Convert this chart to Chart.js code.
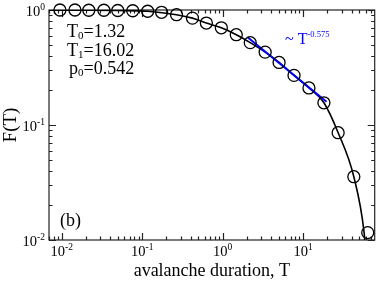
<!DOCTYPE html>
<html><head><meta charset="utf-8">
<script src="https://cdn.jsdelivr.net/npm/chart.js@4.4.1/dist/chart.umd.min.js"></script>
<style>html,body{margin:0;padding:0;background:#fff}#wrap{width:382px;height:282px}</style>
</head><body><div id="wrap"><canvas id="c" width="382" height="282"></canvas></div>
<script>
// ---- data ----
const durationT = [0.0095,0.0146,0.0217,0.0334,0.0497,0.0763,0.117,0.174,0.267,0.421,0.627,0.962,1.475,2.20,3.37,5.02,7.70,11.8,18.1,27.2,42.6,63.4];
const fractionF = [1.0,1.0,0.995,0.995,0.99,0.985,0.975,0.955,0.91,0.85,0.77,0.70,0.61,0.52,0.43,0.35,0.27,0.21,0.156,0.0857,0.0355,0.0116];
const fitT = [0.00695,0.0095,0.0217,0.0497,0.117,0.267,0.421,0.627,0.962,1.475,2.20,3.37,5.02,7.70,11.8,18.1,27.2,42.6,57.2,58.2];
const fitF = [0.995,0.995,0.995,0.99,0.975,0.91,0.85,0.77,0.70,0.61,0.52,0.43,0.35,0.27,0.21,0.156,0.0857,0.0355,0.0116,0.01];
const powerT = [2.04, 19.5];
const powerF = [0.579, 0.159];
const xTickValues = [0.01, 0.1, 1, 10];
const xTickExps = ['-2', '-1', '0', '1'];
const yTickValues = [0.01, 0.1, 1];
const yTickExps = ['-2', '-1', '0'];
const xAxisTitle = 'avalanche duration, T';
const yAxisTitle = 'F(T)';
const fitParams = [['T', '0', '=1.32'], ['T', '1', '=16.02'], ['p', '0', '=0.542']];
const panelLabel = '(b)';
const slopeLabel = ['~ T', '-0.575'];
const xRange = [0.00695, 77.4];
const yRange = [0.01, 1];

const SERIF = '"Liberation Serif", "Times New Roman", serif';

function logTicks(min, max) {
  const out = [];
  for (let e = Math.floor(Math.log10(min)); e <= Math.ceil(Math.log10(max)); e++) {
    for (let k = 1; k < 10; k++) {
      const v = k * Math.pow(10, e);
      if (v >= min * 0.9999 && v <= max * 1.0001) out.push({ v, major: k === 1 });
    }
  }
  return out;
}

function drawPow(ctx, base, exp, x, baseline, align, bs, es, color) {
  ctx.fillStyle = color || '#000';
  ctx.font = bs + 'px ' + SERIF;
  const wb = ctx.measureText(base).width;
  ctx.font = es + 'px ' + SERIF;
  const we = ctx.measureText(exp).width;
  const tot = wb + we;
  let sx = x;
  if (align === 'center') sx = x - tot / 2;
  else if (align === 'right') sx = x - tot;
  ctx.textAlign = 'left';
  ctx.textBaseline = 'alphabetic';
  ctx.font = bs + 'px ' + SERIF;
  ctx.fillText(base, sx, baseline);
  ctx.font = es + 'px ' + SERIF;
  ctx.fillText(exp, sx + wb, baseline - bs * 0.42);
}

const framePlugin = {
  id: 'frame',
  beforeDatasetsDraw(chart) {
    const ctx = chart.ctx, a = chart.chartArea;
    const xs = chart.scales.x, ys = chart.scales.y;
    ctx.save();
    ctx.strokeStyle = '#222';
    ctx.lineWidth = 1.2;
    ctx.strokeRect(a.left, a.top, a.right - a.left, a.bottom - a.top);
    ctx.beginPath();
    logTicks(xs.min, xs.max).forEach(t => {
      const px = Math.round(xs.getPixelForValue(t.v)) + 0.5;
      const L = t.major ? 7 : 3.5;
      ctx.moveTo(px, a.bottom); ctx.lineTo(px, a.bottom - L);
      ctx.moveTo(px, a.top); ctx.lineTo(px, a.top + L);
    });
    logTicks(ys.min, ys.max).forEach(t => {
      const py = Math.round(ys.getPixelForValue(t.v)) + 0.5;
      const L = t.major ? 7 : 3.5;
      ctx.moveTo(a.left, py); ctx.lineTo(a.left + L, py);
      ctx.moveTo(a.right, py); ctx.lineTo(a.right - L, py);
    });
    ctx.stroke();
    ctx.restore();
  },
  afterDraw(chart) {
    const ctx = chart.ctx, a = chart.chartArea;
    const xs = chart.scales.x, ys = chart.scales.y;
    ctx.save();
    xTickValues.forEach((v, i) => {
      drawPow(ctx, '10', xTickExps[i], xs.getPixelForValue(v), a.bottom + 16, 'center', 14.5, 9.5);
    });
    yTickValues.forEach((v, i) => {
      drawPow(ctx, '10', yTickExps[i], a.left - 4, ys.getPixelForValue(v) + 6, 'right', 14.5, 9.5);
    });
    // axis titles
    ctx.fillStyle = '#000';
    ctx.font = '18px ' + SERIF;
    ctx.textAlign = 'center';
    ctx.textBaseline = 'alphabetic';
    ctx.fillText(xAxisTitle, (a.left + a.right) / 2, 276);
    ctx.save();
    ctx.translate(16, (a.top + a.bottom) / 2);
    ctx.rotate(-Math.PI / 2);
    ctx.font = '19px ' + SERIF;
    ctx.fillText(yAxisTitle, 0, 0);
    ctx.restore();
    // fit parameters
    const ys0 = [37, 56, 74];
    const xs0 = [67, 67, 69];
    fitParams.forEach((p, i) => {
      ctx.textAlign = 'left';
      ctx.font = '18px ' + SERIF;
      let x = xs0[i];
      ctx.fillText(p[0], x, ys0[i]);
      x += ctx.measureText(p[0]).width;
      ctx.font = '11px ' + SERIF;
      ctx.fillText(p[1], x, ys0[i] + 2);
      x += ctx.measureText(p[1]).width;
      ctx.font = '18px ' + SERIF;
      ctx.fillText(p[2], x, ys0[i]);
    });
    // panel label
    ctx.font = '18px ' + SERIF;
    ctx.textAlign = 'left';
    ctx.fillText(panelLabel, 60, 226);
    // slope label
    drawPow(ctx, slopeLabel[0], slopeLabel[1], 285, 44, 'left', 16, 8.5, '#0000ff');
    ctx.restore();
  }
};

const toXY = (xsArr, ysArr) => xsArr.map((x, i) => ({ x, y: ysArr[i] }));

new Chart(document.getElementById('c'), {
  type: 'line',
  data: {
    datasets: [
      {
        label: 'fit',
        data: toXY(fitT, fitF),
        borderColor: '#000',
        borderWidth: 1.6,
        pointRadius: 0,
        cubicInterpolationMode: 'monotone',
        fill: false,
        order: 3
      },
      {
        label: 'power',
        data: toXY(powerT, powerF),
        borderColor: '#0000ff',
        borderWidth: 2,
        pointRadius: 0,
        fill: false,
        order: 2
      },
      {
        label: 'data',
        data: toXY(durationT, fractionF),
        showLine: false,
        pointRadius: 6,
        pointBorderWidth: 1.3,
        pointBorderColor: '#000',
        pointBackgroundColor: 'rgba(0,0,0,0)',
        clip: false,
        order: 1
      }
    ]
  },
  options: {
    responsive: false,
    devicePixelRatio: 1,
    animation: false,
    layout: { padding: { left: 49, top: 10, right: 6, bottom: 42 } },
    plugins: { legend: { display: false }, tooltip: { enabled: false } },
    events: [],
    scales: {
      x: { type: 'logarithmic', min: xRange[0], max: xRange[1], display: false },
      y: { type: 'logarithmic', min: yRange[0], max: yRange[1], display: false }
    }
  },
  plugins: [framePlugin]
});
</script>
</body></html>
